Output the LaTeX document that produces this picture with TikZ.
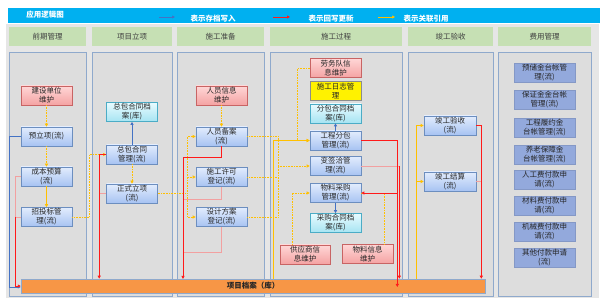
\documentclass[tikz,border=0pt]{standalone}
\usepackage{fontspec}
\setmainfont{Noto Sans CJK SC}
\usetikzlibrary{arrows.meta}
\definecolor{bannerc}{HTML}{00B0F0}
\definecolor{headc}{HTML}{C6E0B4}
\definecolor{bgc}{HTML}{E6E6E6}
\definecolor{panelc}{HTML}{DDDDDD}
\definecolor{panelbd}{HTML}{8FA9CC}
\definecolor{txt}{HTML}{262626}
\definecolor{flowtop}{HTML}{E2ECFD}
\definecolor{flowbot}{HTML}{A7C3F2}
\definecolor{flowbd}{HTML}{6C8EBF}
\definecolor{redtop}{HTML}{FFD6D6}
\definecolor{redbot}{HTML}{F4A3A3}
\definecolor{redbd}{HTML}{C86464}
\definecolor{cyantop}{HTML}{E8FBFF}
\definecolor{cyanbot}{HTML}{A6E4F2}
\definecolor{cyanbd}{HTML}{4BACC6}
\definecolor{feec}{HTML}{93A9DC}
\definecolor{barc}{HTML}{F79646}
\definecolor{bluel}{HTML}{4472C4}
\definecolor{redl}{HTML}{FF1A1A}
\definecolor{pinkl}{HTML}{F2A0A0}
\definecolor{yell}{HTML}{FFC000}
\begin{document}
\begin{tikzpicture}[x=1pt,y=-1pt,
  base/.style={minimum width=51pt, minimum height=19pt, inner sep=0pt, align=center,
    font=\fontsize{7.5}{9}\selectfont, text=txt, line width=0.6pt},
  flow/.style={base, draw=flowbd, top color=flowtop, bottom color=flowbot},
  redbox/.style={base, draw=redbd, top color=redtop, bottom color=redbot},
  cyanbox/.style={base, draw=cyanbd, top color=cyantop, bottom color=cyanbot},
  yelbox/.style={base, draw=black!45, fill=yellow},
  feebox/.style={base, minimum width=61pt, fill=feec, draw=feec!90!black, line width=0.3pt},
  panel/.style={draw=panelbd, fill=panelc, line width=0.7pt, minimum height=244pt, inner sep=0pt},
  head/.style={fill=headc, minimum height=19pt, inner sep=0pt, font=\fontsize{7.5}{9}\selectfont, text=black!75},
  tip/.style={-{Triangle[length=3pt,width=3pt]}},
  blueln/.style={draw=bluel, line width=0.8pt},
  redln/.style={draw=redl, line width=0.9pt},
  pinkln/.style={draw=pinkl, line width=0.9pt},
  yeldot/.style={draw=yell, line width=0.6pt, densely dotted},
  yelsol/.style={draw=yell, line width=0.6pt},
  legtxt/.style={text=white, font=\bfseries\fontsize{7.5}{9}\selectfont, inner sep=0pt}
]
\useasboundingbox (0,0) rectangle (600,299);
\fill[white] (0,0) rectangle (600,299);
\fill[bgc] (6,24) rectangle (599,298);
% banner
\node[fill=bannerc, minimum width=592pt, minimum height=15pt, inner sep=0pt] (banner) at (304,15.5) {};
\node[legtxt] (title) at (45,15) {应用逻辑图};
\coordinate (lb1) at (159,17); \coordinate (lb2) at (175,17);
\draw[blueln, tip] (lb1) -- (lb2);
\node[legtxt] (lt1) at (213,18.5) {表示存档写入};
\coordinate (lr1) at (273,17); \coordinate (lr2) at (290,17);
\draw[redln, tip] (lr1) -- (lr2);
\node[legtxt] (lt2) at (331,18.5) {表示回写更新};
\coordinate (ly1) at (378,17); \coordinate (ly2) at (395,17);
\draw[yelsol, tip] (ly1) -- (ly2);
\node[legtxt] (lt3) at (426,18.5) {表示关联引用};
% headers
\node[head, minimum width=77pt] (h1) at (47.5,36.5) {前期管理};
\node[head, minimum width=80pt] (h2) at (132,36.5) {项目立项};
\node[head, minimum width=87pt] (h3) at (220.5,36.5) {施工准备};
\node[head, minimum width=132pt] (h4) at (336,36.5) {施工过程};
\node[head, minimum width=85pt] (h5) at (450.5,36.5) {竣工验收};
\node[head, minimum width=93pt] (h6) at (544.5,36.5) {费用管理};
% panels
\node[panel, minimum width=77pt] (p1) at (47.5,174) {};
\node[panel, minimum width=80pt] (p2) at (132,174) {};
\node[panel, minimum width=87pt] (p3) at (220.5,174) {};
\node[panel, minimum width=132pt] (p4) at (336,174) {};
\node[panel, minimum width=85pt] (p5) at (450.5,174) {};
\node[panel, minimum width=93pt] (p6) at (544.5,174) {};
% bar
\node[fill=barc, draw=panelbd, line width=0.5pt, minimum width=464pt, minimum height=14pt, inner sep=0pt,
  font=\bfseries\fontsize{7.5}{9}\selectfont, text=txt] (bar) at (253,286) {项目档案（库）};
% column 1
\node[redbox] (jsdw) at (46.5,95.5) {建设单位\\维护};
\node[flow] (ylx) at (46.5,136.5) {预立项(流)};
\node[flow] (cbys) at (46.5,176.5) {成本预算\\(流)};
\node[flow] (ztb) at (46.5,217) {招投标管\\理(流)};
% column 2
\node[cyanbox] (zbda) at (132,112) {总包合同档\\案(库)};
\node[flow] (zbgl) at (132,154.5) {总包合同\\管理(流)};
\node[flow] (zslx) at (132,193.5) {正式立项\\(流)};
% column 3
\node[redbox] (ryxx) at (221.5,95.5) {人员信息\\维护};
\node[flow] (ryba) at (221.5,136.5) {人员备案\\(流)};
\node[flow] (sgxk) at (221.5,177) {施工许可\\登记(流)};
\node[flow] (sjfa) at (221.5,217) {设计方案\\登记(流)};
% column 4
\node[redbox] (lwd) at (335.5,68) {劳务队信\\息维护};
\node[yelbox] (sgrz) at (335.5,91) {施工日志管\\理};
\node[cyanbox] (fbda) at (335.5,113.5) {分包合同档\\案(库)};
\node[flow] (gcfb) at (335.5,140.5) {工程分包\\管理(流)};
\node[flow] (bqq) at (335.5,166) {变签洽管\\理(流)};
\node[flow] (wlcg) at (335.5,193) {物料采购\\管理(流)};
\node[cyanbox] (cgda) at (335.5,223) {采购合同档\\案(库)};
\node[redbox, minimum width=50pt] (gys) at (305,254.5) {供应商信\\息维护};
\node[redbox] (wlxx) at (367.5,254) {物料信息\\维护};
% column 5
\node[flow, minimum width=52pt] (jgys) at (450,125.5) {竣工验收\\(流)};
\node[flow, minimum width=52pt] (jgjs) at (450,181.5) {竣工结算\\(流)};
% column 6
\node[feebox] (f1) at (544.5,72.5) {预储金台帐管\\理(流)};
\node[feebox] (f2) at (544.5,100) {保证金金台帐\\管理(流)};
\node[feebox] (f3) at (544.5,127.5) {工程履约金\\台帐管理(流)};
\node[feebox] (f4) at (544.5,155) {养老保障金\\台帐管理(流)};
\node[feebox] (f5) at (544.5,180) {人工费付款申\\请(流)};
\node[feebox] (f6) at (544.5,206) {材料费付款申\\请(流)};
\node[feebox] (f7) at (544.5,232) {机械费付款申\\请(流)};
\node[feebox] (f8) at (544.5,257.5) {其他付款申请\\(流)};
% ---------- connectors ----------
% column 1
\draw[yeldot, tip] (jsdw.south) -- (ylx.north);
\draw[yeldot, tip] (ylx.south) -- (cbys.north);
\draw[yelsol, tip] (cbys.south) -- (ztb.north);
\draw[blueln, tip] (ylx.west) -- ++(-11,0) |- ([yshift=-1pt]bar.west);
\draw[pinkln] (ztb.west) -- ++(-5.5,0);
\draw[pinkln] (cbys.west) -- ++(-5.5,0) coordinate (c1r) -- (c1r |- ztb.west) coordinate (c1r2);
\draw[redln, tip] (c1r2) |- (bar.west);
\draw[yeldot, tip] (ztb.east) -- ++(17,0) |- (zbgl.west);
% column 2
\draw[blueln, tip] (zbgl.north) -- (zbda.south);
\draw[yeldot, tip] (zbgl.south) -- (zslx.north);
\draw[pinkln] (zslx.west) -- ++(-7,0);
\draw[redln, tip] (zbgl.west) -- ++(-7,0) coordinate (c2r) -- (c2r |- bar.north);
\coordinate (j3) at (187,193.5);
\draw[yeldot] (zslx.east) -- (j3);
\draw[yeldot, tip] (j3) |- (ryba.west);
\draw[yeldot, tip] (j3) |- (sgxk.west);
\draw[yeldot, tip] (j3) |- (sjfa.west);
% column 3
\draw[yeldot, tip] (ryxx.south) -- (ryba.north);
\draw[pinkln] (sgxk.south) -- ++(0,13) -| (183,200);
\draw[pinkln] (sjfa.south) -- ++(0,26) -| (183,253);
\draw[redln, tip] (ryba.south) -- ++(0,11) -| (183,279);
\coordinate (j4) at (278,166);
\draw[yeldot] (ryba.east) -| (j4);
\draw[yeldot] (sgxk.east) -| (j4);
\draw[yeldot] (sjfa.east) -| (j4);
\draw[yeldot, tip] (j4) -- (bqq.west);
% column 4
\coordinate (j5) at (273,140.5);
\draw[yelsol, tip] (j5 |- bar.north) -- (j5) -- (gcfb.west);
\draw[yeldot, tip] (lwd.west) -- ++(-12,0) |- (gcfb.west);
\draw[blueln, tip] (gcfb.north) -- (fbda.south);
\draw[blueln, tip] (wlcg.south) -- (cgda.north);
\draw[yeldot, tip] ([xshift=-13pt]gys.north) |- (wlcg.west);
\draw[yeldot] ([xshift=16.5pt]wlxx.north) |- (wlcg.east);
\draw[pinkln] (bqq.east) -- ++(38,0) coordinate (c4b);
\draw[redln, tip] (c4b) -- (c4b |- bar.north);
\draw[redln, tip] (gcfb.east) -- ++(36,0) coordinate (c4a) -- ([yshift=-1pt]c4a |- bar.center);
\draw[redln, tip] (c4a |- wlcg.east) -- (wlcg.east);
% column 5
\coordinate (j6) at (416,125.5);
\draw[yelsol, tip] (j6 |- bar.north) -- (j6) -- (jgys.west);
\draw[yelsol, tip] (j6 |- jgjs.west) -- (jgjs.west);
\draw[pinkln] (jgjs.east) -- ++(5,0);
\draw[redln, tip] (jgys.east) -- ++(5,0) coordinate (c5) -- (c5 |- bar.north);
\end{tikzpicture}
\end{document}
